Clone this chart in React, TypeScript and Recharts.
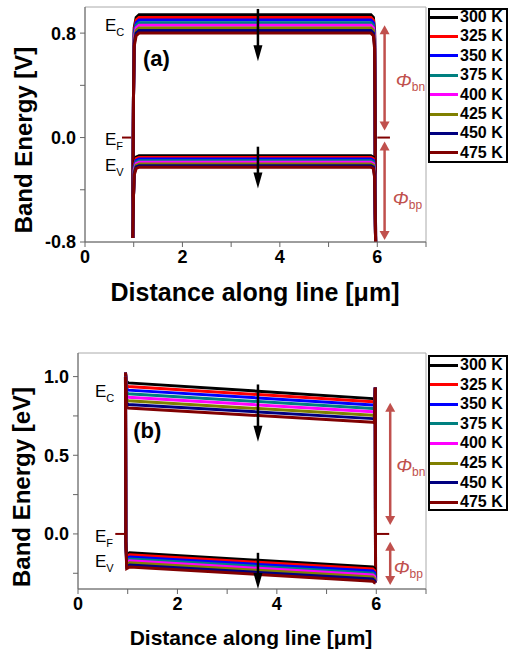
import React from "react";
import {
  LineChart,
  Line,
  XAxis,
  YAxis,
  ReferenceLine,
  ReferenceArea,
  ReferenceDot,
} from "recharts";

const FONT = "'Liberation Sans', Arial, Helvetica, sans-serif";
const PHI_RED = "#c0504d";
const EF_COLOR = "#800000";

const temps = ["300 K", "325 K", "350 K", "375 K", "400 K", "425 K", "450 K", "475 K"];
const tempColors = ["#000000", "#ff0000", "#0000ff", "#008080", "#ff00ff", "#808000", "#000080", "#800000"];

const xTicks = [0, 1, 2, 3, 4, 5, 6, 7];
const xTickLabels = ["0", "", "2", "", "4", "", "6", ""];

// panel (a)
const aYTicks = [-0.8, -0.4, 0, 0.4, 0.8];
const aYLabels = ["-0.8", "", "0.0", "", "0.8"];
const aX = [0.98, 0.995, 1.01, 1.05, 1.11, 5.87, 5.92, 5.945, 5.955, 5.965];
const aCb = [
  [-0.77, 0.3, 0.84, 0.92, 0.94, 0.94, 0.92, 0.82, 0.2, -0.8],
  [-0.77, 0.3, 0.82, 0.9, 0.92, 0.92, 0.9, 0.8, 0.2, -0.8],
  [-0.77, 0.3, 0.8, 0.88, 0.9, 0.9, 0.88, 0.78, 0.2, -0.8],
  [-0.77, 0.3, 0.78, 0.86, 0.88, 0.88, 0.86, 0.76, 0.2, -0.8],
  [-0.77, 0.3, 0.76, 0.84, 0.86, 0.86, 0.84, 0.74, 0.2, -0.8],
  [-0.77, 0.3, 0.74, 0.82, 0.84, 0.84, 0.82, 0.72, 0.2, -0.8],
  [-0.77, 0.3, 0.72, 0.8, 0.82, 0.82, 0.8, 0.7, 0.2, -0.8],
  [-0.77, 0.3, 0.7, 0.78, 0.8, 0.8, 0.78, 0.68, 0.2, -0.8],
];
const aVb = [
  [-0.77, -0.45, -0.2, -0.15, -0.14, -0.14, -0.15, -0.22, -0.5, -0.8],
  [-0.77, -0.45, -0.212, -0.162, -0.152, -0.152, -0.162, -0.232, -0.5, -0.8],
  [-0.77, -0.45, -0.225, -0.175, -0.165, -0.165, -0.175, -0.245, -0.5, -0.8],
  [-0.77, -0.45, -0.237, -0.187, -0.177, -0.177, -0.187, -0.257, -0.5, -0.8],
  [-0.77, -0.45, -0.25, -0.2, -0.19, -0.19, -0.2, -0.27, -0.5, -0.8],
  [-0.77, -0.45, -0.262, -0.212, -0.202, -0.202, -0.212, -0.282, -0.5, -0.8],
  [-0.77, -0.45, -0.275, -0.225, -0.215, -0.215, -0.225, -0.295, -0.5, -0.8],
  [-0.77, -0.45, -0.287, -0.237, -0.227, -0.227, -0.237, -0.307, -0.5, -0.8],
];

// panel (b)
const bYTicks = [-0.25, 0, 0.25, 0.5, 0.75, 1.0];
const bYLabels = ["", "0.0", "", "0.5", "", "1.0"];
const bCbX = [0.955, 0.975, 1.01, 5.93, 5.965, 5.98, 5.985];
const bCb = [
  [1.025, 0.97, 0.96, 0.86, 0.855, 0.93, -0.3],
  [1.025, 0.947, 0.937, 0.84, 0.835, 0.93, -0.3],
  [1.025, 0.924, 0.914, 0.82, 0.815, 0.93, -0.3],
  [1.025, 0.901, 0.891, 0.797, 0.792, 0.93, -0.3],
  [1.025, 0.879, 0.869, 0.776, 0.771, 0.93, -0.3],
  [1.025, 0.856, 0.846, 0.754, 0.749, 0.93, -0.3],
  [1.025, 0.833, 0.823, 0.733, 0.728, 0.93, -0.3],
  [1.025, 0.81, 0.8, 0.71, 0.705, 0.93, -0.3],
];
const bVbX = [0.955, 0.962, 0.98, 1.04, 5.93, 5.965, 5.985];
const bVb = [
  [1.0, -0.05, -0.13, -0.12, -0.21, -0.22, -0.31],
  [1.0, -0.05, -0.143, -0.133, -0.223, -0.233, -0.31],
  [1.0, -0.05, -0.156, -0.146, -0.236, -0.246, -0.31],
  [1.0, -0.05, -0.169, -0.159, -0.249, -0.259, -0.31],
  [1.0, -0.05, -0.181, -0.171, -0.261, -0.271, -0.31],
  [1.0, -0.05, -0.194, -0.184, -0.274, -0.284, -0.31],
  [1.0, -0.05, -0.207, -0.197, -0.287, -0.297, -0.31],
  [1.0, -0.05, -0.22, -0.21, -0.3, -0.31, -0.31],
];

// annotations
const aAnn = {
  ef: [[0.76, 0.95], [6.0, 6.26]],
  down: [{ x: 3.55, y1: 0.985, y2: 0.585 }, { x: 3.55, y1: -0.07, y2: -0.39 }],
  phi: [{ x: 6.15, y1: 0.86, y2: 0.055 }, { x: 6.15, y1: -0.03, y2: -0.785 }],
  labels: [
    { x: 0.41, y: 0.815, main: "E", sub: "C" },
    { x: 0.41, y: -0.06, main: "E", sub: "F" },
    { x: 0.41, y: -0.255, main: "E", sub: "V" },
    { x: 1.19, y: 0.546, main: "(a)", big: true },
    { x: 6.38, y: 0.39, main: "Φ", sub: "bn", phi: true },
    { x: 6.32, y: -0.52, main: "Φ", sub: "bp", phi: true },
  ],
};
const bAnn = {
  ef: [[0.75, 0.95], [6.0, 6.26]],
  down: [{ x: 3.62, y1: 0.95, y2: 0.586 }, { x: 3.62, y1: -0.12, y2: -0.35 }],
  phi: [{ x: 6.28, y1: 0.834, y2: 0.057 }, { x: 6.28, y1: -0.05, y2: -0.325 }],
  labels: [
    { x: 0.34, y: 0.873, main: "E", sub: "C" },
    { x: 0.34, y: -0.05, main: "E", sub: "F" },
    { x: 0.34, y: -0.21, main: "E", sub: "V" },
    { x: 1.11, y: 0.61, main: "(b)", big: true },
    { x: 6.4, y: 0.395, main: "Φ", sub: "bn", phi: true },
    { x: 6.35, y: -0.255, main: "Φ", sub: "bp", phi: true },
  ],
};

const downArrow = (p: any) => {
  const { x1, y1, x2, y2 } = p;
  return (
    <g>
      <line x1={x1} y1={y1} x2={x2} y2={y2 - 12} stroke="#000" strokeWidth={2.5} />
      <polygon points={`${x2 - 4.5},${y2 - 16} ${x2 + 4.5},${y2 - 16} ${x2},${y2}`} fill="#000" />
    </g>
  );
};

const doubleArrow = (p: any) => {
  const { x1, y1, x2, y2 } = p;
  return (
    <g>
      <line x1={x1} y1={y1 + 6} x2={x2} y2={y2 - 6} stroke={PHI_RED} strokeWidth={2.5} />
      <polygon points={`${x1 - 5},${y1 + 9} ${x1 + 5},${y1 + 9} ${x1},${y1}`} fill={PHI_RED} />
      <polygon points={`${x2 - 5},${y2 - 9} ${x2 + 5},${y2 - 9} ${x2},${y2}`} fill={PHI_RED} />
    </g>
  );
};

const labelShape = (l: any) => (p: any) => {
  if (l.big) {
    return (
      <text x={p.cx} y={p.cy} fontFamily={FONT} fontSize={22} fontWeight={700} fill="#000">
        {l.main}
      </text>
    );
  }
  if (l.phi) {
    return (
      <text x={p.cx} y={p.cy} fontFamily={FONT} fill={PHI_RED}>
        <tspan fontSize={19} fontStyle="italic">{l.main}</tspan>
        <tspan fontSize={12} dy={4}>{l.sub}</tspan>
      </text>
    );
  }
  return (
    <text x={p.cx} y={p.cy} fontFamily={FONT} fill="#000">
      <tspan fontSize={17}>{l.main}</tspan>
      <tspan fontSize={11} dy={5}>{l.sub}</tspan>
    </text>
  );
};

const tickStyle = { fill: "#000", fontSize: 18, fontWeight: 700, fontFamily: FONT };

function Panel(props: any) {
  const { height, margin, yDomain, yTicks, yLabels, cbX, cb, vbX, vb, ann } = props;
  return (
    <LineChart width={509} height={height} margin={margin}>
      <ReferenceArea
        x1={0}
        x2={7}
        y1={yDomain[0]}
        y2={yDomain[1]}
        fill="none"
        stroke="#aaa"
        strokeWidth={1}
        ifOverflow="visible"
      />
      <XAxis
        type="number"
        dataKey="x"
        domain={[0, 7]}
        ticks={xTicks}
        interval={0}
        allowDataOverflow
        tickFormatter={(v: number) => xTickLabels[xTicks.indexOf(v)]}
        axisLine={{ stroke: "#666" }}
        tickLine={{ stroke: "#666" }}
        tickSize={5}
        tickMargin={3}
        height={30}
        tick={tickStyle}
      />
      <YAxis
        type="number"
        domain={yDomain}
        ticks={yTicks}
        interval={0}
        allowDataOverflow
        tickFormatter={(v: number) => yLabels[yTicks.indexOf(v)]}
        axisLine={{ stroke: "#666" }}
        tickLine={{ stroke: "#666" }}
        tickSize={5}
        tickMargin={4}
        width={60}
        tick={tickStyle}
      />
      {temps.map((t, i) => (
        <Line
          key={"cb" + t}
          name={t}
          data={cbX.map((x: number, j: number) => ({ x, y: cb[i][j] }))}
          dataKey="y"
          type="linear"
          stroke={tempColors[i]}
          strokeWidth={3}
          dot={false}
          activeDot={false}
          isAnimationActive={false}
        />
      ))}
      {temps.map((t, i) => (
        <Line
          key={"vb" + t}
          name={t}
          data={vbX.map((x: number, j: number) => ({ x, y: vb[i][j] }))}
          dataKey="y"
          type="linear"
          stroke={tempColors[i]}
          strokeWidth={3}
          dot={false}
          activeDot={false}
          isAnimationActive={false}
        />
      ))}
      {ann.ef.map((s: number[], i: number) => (
        <ReferenceLine
          key={"ef" + i}
          segment={[{ x: s[0], y: 0 }, { x: s[1], y: 0 }]}
          stroke={EF_COLOR}
          strokeWidth={2}
          ifOverflow="visible"
        />
      ))}
      {ann.down.map((a: any, i: number) => (
        <ReferenceLine
          key={"dn" + i}
          segment={[{ x: a.x, y: a.y1 }, { x: a.x, y: a.y2 }]}
          shape={downArrow}
          ifOverflow="visible"
        />
      ))}
      {ann.phi.map((a: any, i: number) => (
        <ReferenceLine
          key={"phi" + i}
          segment={[{ x: a.x, y: a.y1 }, { x: a.x, y: a.y2 }]}
          shape={doubleArrow}
          ifOverflow="visible"
        />
      ))}
      {ann.labels.map((l: any, i: number) => (
        <ReferenceDot key={"lb" + i} x={l.x} y={l.y} r={0} shape={labelShape(l)} ifOverflow="visible" />
      ))}
    </LineChart>
  );
}

function LegendBox({ top, height, rowStart, rowStep }: any) {
  return (
    <div
      style={{
        position: "absolute",
        left: 428,
        top,
        width: 80,
        height,
        border: "2px solid #000",
        boxSizing: "border-box",
        background: "#fff",
      }}
    >
      {temps.map((t, i) => (
        <div
          key={t}
          style={{
            position: "absolute",
            left: 0,
            top: rowStart + rowStep * i - top - 2 - 9,
            height: 18,
            display: "flex",
            alignItems: "center",
            whiteSpace: "nowrap",
          }}
        >
          <div style={{ width: 28, height: 3, background: tempColors[i] }} />
          <span style={{ marginLeft: 2, fontFamily: FONT, fontWeight: 700, fontSize: 16, lineHeight: "18px" }}>
            {t}
          </span>
        </div>
      ))}
    </div>
  );
}

const titleStyle: React.CSSProperties = {
  position: "absolute",
  fontFamily: FONT,
  fontWeight: 700,
  color: "#000",
  textAlign: "center",
  whiteSpace: "nowrap",
};

export default function App() {
  return (
    <div style={{ position: "absolute", left: 0, top: 0, width: 509, height: 653, background: "#fff", overflow: "hidden" }}>
      <div style={{ position: "absolute", left: 0, top: 0 }}>
        <Panel
          height={320}
          margin={{ top: 7, right: 83, left: 25, bottom: 48 }}
          yDomain={[-0.8, 1.0]}
          yTicks={aYTicks}
          yLabels={aYLabels}
          cbX={aX}
          cb={aCb}
          vbX={aX}
          vb={aVb}
          ann={aAnn}
        />
      </div>
      <div style={{ position: "absolute", left: 0, top: 320 }}>
        <Panel
          height={333}
          margin={{ top: 33, right: 83, left: 18, bottom: 34 }}
          yDomain={[-0.35, 1.15]}
          yTicks={bYTicks}
          yLabels={bYLabels}
          cbX={bCbX}
          cb={bCb}
          vbX={bVbX}
          vb={bVb}
          ann={bAnn}
        />
      </div>
      <LegendBox top={8} height={155} rowStart={17} rowStep={19.4} />
      <LegendBox top={355} height={156} rowStart={365} rowStep={19.6} />
      <div style={{ ...titleStyle, left: 0, width: 510, top: 280, fontSize: 25, lineHeight: "25px" }}>
        Distance along line [μm]
      </div>
      <div style={{ ...titleStyle, left: 0, width: 502, top: 627, fontSize: 21, lineHeight: "21px" }}>
        Distance along line [μm]
      </div>
      <div
        style={{
          ...titleStyle,
          left: 23.5 - 130,
          top: 139.5 - 12,
          width: 260,
          height: 24,
          fontSize: 24,
          lineHeight: "24px",
          transform: "rotate(-90deg)",
        }}
      >
        Band Energy [V]
      </div>
      <div
        style={{
          ...titleStyle,
          left: 21.7 - 130,
          top: 487 - 12,
          width: 260,
          height: 24,
          fontSize: 24,
          lineHeight: "24px",
          transform: "rotate(-90deg)",
        }}
      >
        Band Energy [eV]
      </div>
    </div>
  );
}
